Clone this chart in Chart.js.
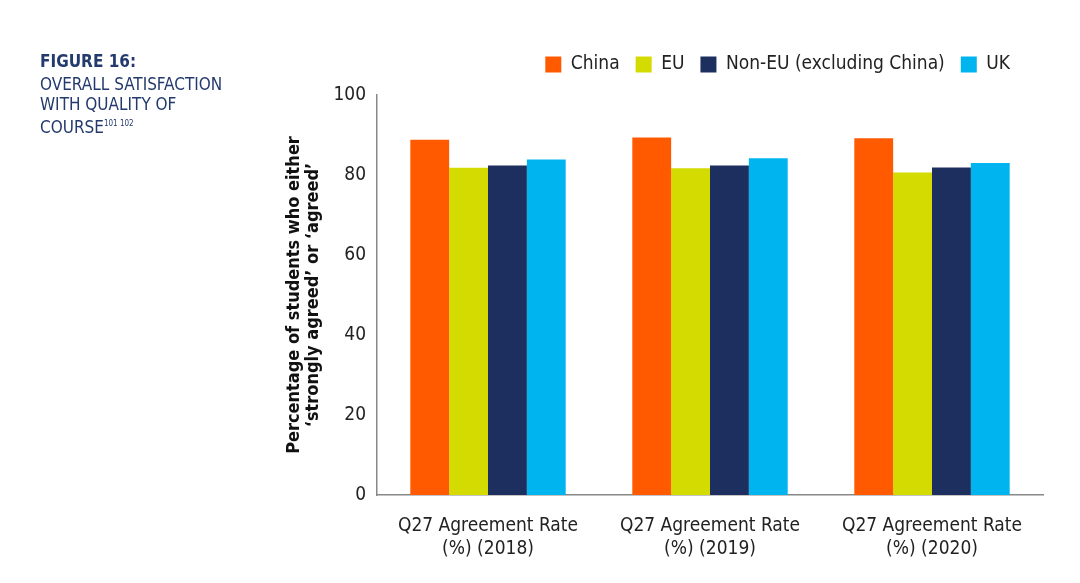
<!DOCTYPE html>
<html>
<head>
<meta charset="utf-8">
<script src="https://cdn.jsdelivr.net/npm/chart.js@4.4.0/dist/chart.umd.min.js"></script>
<style>
  body { margin: 0; background: #fff; }
  #wrap { position: relative; width: 1080px; height: 583px; }
  #fig { position: absolute; left: 40px; top: 51px; color: #233a6e;
         font-family: "DejaVu Sans Condensed", "DejaVu Sans", sans-serif;
         font-size: 17px; line-height: 20px; }
  #fig .head { font-weight: bold; margin-bottom: 3px; }
  #fig sup { font-size: 8px; vertical-align: 7px; }
</style>
</head>
<body>
<div id="wrap">
  <div id="fig"><div class="head">FIGURE 16:</div>OVERALL SATISFACTION<br>WITH QUALITY OF<br>COURSE<sup>101 102</sup></div>
  <canvas id="chart" width="1080" height="583"></canvas>
</div>
<script>
// chart data
let categories = [
    ["Q27 Agreement Rate", "(%) (2018)"],
    ["Q27 Agreement Rate", "(%) (2019)"],
    ["Q27 Agreement Rate", "(%) (2020)"]
];
let seriesNames = ["China", "EU", "Non-EU (excluding China)", "UK"];
let china = [88.8, 89.4, 89.2];
let eu = [81.8, 81.7, 80.6];
let nonEu = [82.4, 82.4, 81.9];
let uk = [83.9, 84.2, 83.0];
let yTicks = [0, 20, 40, 60, 80, 100];
let colors = ["#ff5a00", "#d4db00", "#1c2f5e", "#00b5ef"];

let font = '"DejaVu Sans Condensed", "DejaVu Sans", sans-serif';

// nudge the legend a bit left and up from where Chart.js puts it
let legendShift = {
    id: "legendShift",
    afterLayout: function(chart) {
        let lg = chart.legend;
        lg.left -= 17; lg.right -= 17;
        lg.top -= 11; lg.bottom -= 11;
    }
};

let ctx = document.getElementById("chart").getContext("2d");
new Chart(ctx, {
    type: "bar",
    data: {
        labels: categories,
        datasets: [china, eu, nonEu, uk].map((vals, i) => ({
            label: seriesNames[i],
            data: vals,
            backgroundColor: colors[i],
            borderWidth: 0,
            categoryPercentage: 0.7,
            barPercentage: 1.0
        }))
    },
    options: {
        responsive: false,
        animation: false,
        layout: { padding: { left: 284, right: 37, top: 50, bottom: 0 } },
        plugins: {
            tooltip: { enabled: false },
            legend: {
                position: "top",
                align: "end",
                labels: {
                    boxWidth: 16, boxHeight: 16, padding: 16,
                    color: "#222",
                    font: { family: font, size: 19 }
                }
            }
        },
        scales: {
            x: {
                grid: { display: false, drawTicks: false },
                border: { display: true, color: "#888", width: 1.5 },
                ticks: { color: "#222", font: { family: font, size: 19 }, padding: 20, maxRotation: 0 },
                afterFit: function(scale) { scale.height = 88; }
            },
            y: {
                min: 0, max: 100,
                afterBuildTicks: function(scale) { scale.ticks = yTicks.map(v => ({ value: v })); },
                grid: { display: false, drawTicks: false },
                border: { display: true, color: "#888", width: 1.5 },
                ticks: { color: "#222", font: { family: font, size: 19 }, padding: 11 },
                title: {
                    display: true,
                    text: ["Percentage of students who either", "\u2018strongly agreed\u2019 or \u2018agreed\u2019"],
                    color: "#111",
                    font: { family: font, size: 18, weight: "bold", lineHeight: 1.1 },
                    padding: { top: 0, bottom: 0 }
                },
                afterFit: function(scale) { scale.width = 93; }
            }
        }
    },
    plugins: [legendShift]
});
</script>
</body>
</html>
